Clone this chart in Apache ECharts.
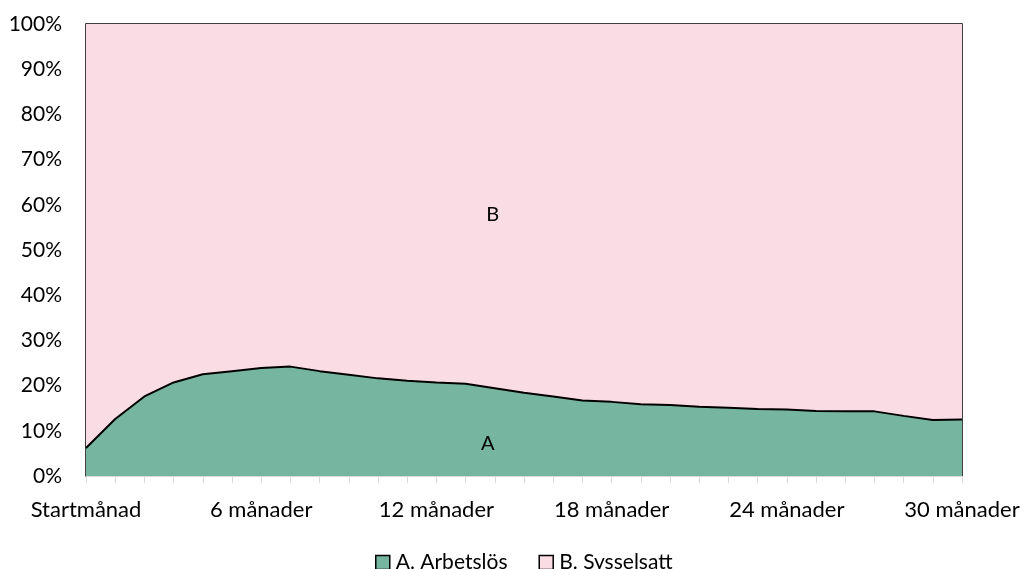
<!DOCTYPE html>
<html><head><meta charset="utf-8">
<script src="https://cdn.jsdelivr.net/npm/echarts@6/dist/echarts.min.js"></script>
<style>html,body{margin:0;padding:0;background:#fff}#c{width:1024px;height:569px}</style>
</head><body><div id="c"></div>
<script>
const categories = ['Startmånad','1 månad','2 månader','3 månader','4 månader','5 månader','6 månader','7 månader','8 månader','9 månader','10 månader','11 månader','12 månader','13 månader','14 månader','15 månader','16 månader','17 månader','18 månader','19 månader','20 månader','21 månader','22 månader','23 månader','24 månader','25 månader','26 månader','27 månader','28 månader','29 månader','30 månader'];
const arbetslos = [6.2,12.6,17.6,20.7,22.5,23.2,23.9,24.2,23.2,22.4,21.6,21.1,20.7,20.4,19.4,18.4,17.6,16.7,16.4,15.9,15.7,15.3,15.1,14.8,14.7,14.4,14.3,14.3,13.3,12.4,12.5];
const sysselsatt = [93.8,87.4,82.4,79.3,77.5,76.8,76.1,75.8,76.8,77.6,78.4,78.9,79.3,79.6,80.6,81.6,82.4,83.3,83.6,84.1,84.3,84.7,84.9,85.2,85.3,85.6,85.7,85.7,86.7,87.6,87.5];
const seriesNames = ['A. Arbetslös','B. Sysselsatt'];
const yTicks = [0,10,20,30,40,50,60,70,80,90,100];
const labelIndex = 14;

const FONT = 'Lato';
const chart = echarts.init(document.getElementById('c'));
function withLabel(arr, text, offset){
  return arr.map((v,i)=> i===labelIndex ? {value:v, label:{show:true, formatter:text, position:'inside', offset:offset, color:'#000', fontSize:20, fontFamily:FONT}} : v);
}
chart.setOption({
  animation:false,
  textStyle:{fontFamily:FONT},
  grid:{left:86,right:62,top:24,bottom:93,show:true,borderColor:'#000',borderWidth:1.5,backgroundColor:'transparent'},
  legend:{top:547,left:370,itemWidth:14,itemHeight:14,itemGap:31,icon:'rect',
    textStyle:{fontSize:21,color:'#000',fontFamily:FONT,padding:[0,0,0,1]},
    data:[{name:seriesNames[0],itemStyle:{color:'#76B59F',borderColor:'#000',borderWidth:1.5}},
          {name:seriesNames[1],itemStyle:{color:'#FADCE4',borderColor:'#000',borderWidth:1.5}}]},
  xAxis:{type:'category',data:categories,boundaryGap:false,
    axisLine:{show:true,lineStyle:{color:'#d9d9d9',width:1}},
    axisTick:{show:true,interval:0,length:7,lineStyle:{color:'#d9d9d9'}},
    axisLabel:{interval:5,margin:23,fontSize:22,color:'#000',fontFamily:FONT},
    splitLine:{show:false}},
  yAxis:{type:'value',min:0,max:100,interval:10,
    axisLine:{show:false},axisTick:{show:false},splitLine:{show:false},
    axisLabel:{formatter:v=>v+'%',margin:24,fontSize:21,color:'#000',fontFamily:FONT}},
  series:[
    {name:seriesNames[0],type:'line',stack:'tot',data:withLabel(arbetslos,'A',[-7,55]),
     showSymbol:true,symbol:'circle',symbolSize:0,
     lineStyle:{color:'#000',width:2},itemStyle:{color:'#76B59F'},
     areaStyle:{color:'#76B59F',opacity:1},z:3},
    {name:seriesNames[1],type:'line',stack:'tot',data:withLabel(sysselsatt,'B',[-2,191]),
     showSymbol:true,symbol:'circle',symbolSize:0,
     lineStyle:{width:0,color:'#000'},itemStyle:{color:'#FADCE4'},
     areaStyle:{color:'#FADCE4',opacity:1},z:2}
  ]
});
</script></body></html>
